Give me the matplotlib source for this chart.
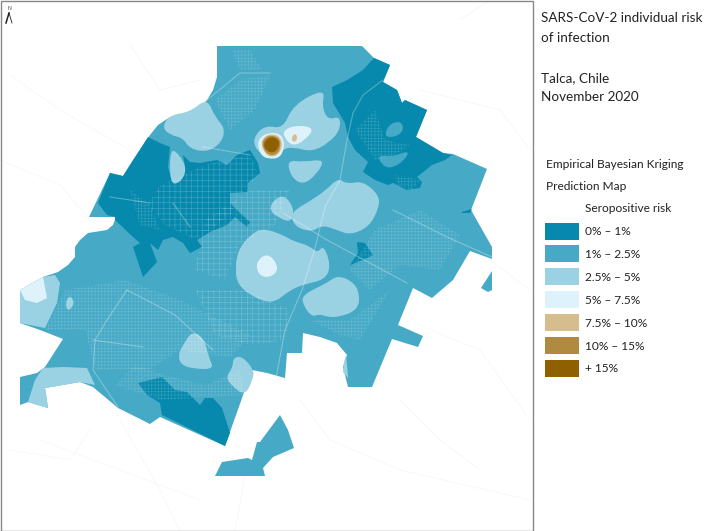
import matplotlib
matplotlib.use("Agg")
import matplotlib.pyplot as plt
from matplotlib.patches import Polygon, Rectangle, PathPatch
from matplotlib.path import Path

plt.rcParams['font.family'] = ['Lato', 'DejaVu Sans']
plt.rcParams['hatch.linewidth'] = 0.35

# risk classes
legend_labels = ["0% – 1%", "1% – 2.5%", "2.5% – 5%", "5% – 7.5%", "7.5% – 10%", "10% – 15%", "+ 15%"]
legend_colors = ["#0689ad", "#46a9c6", "#9bd2e3", "#def2fb", "#d5bd8d", "#b08a3e", "#8e6000"]

# map outline in pixels
city = [(217,46),(362,46),(374,58),(390,65),(383,82),(397,90),(402,103),(405,100),(427,110),(416,137),
        (443,153),(453,154),(487,169),(471,210),(492,247),(492,259),(470,251),(453,280),(432,298),(413,288),
        (398,325),(423,336),(418,347),(392,339),(372,387),(348,387),(343,367),(347,355),(337,343),(320,337),
        (303,333),(302,353),(287,353),(285,378),(267,373),(252,370),(225,446),(160,417),(150,424),(118,408),
        (93,387),(80,382),(45,388),(48,408),(28,402),(20,405),(20,377),(37,373),(45,367),(63,339),(40,330),
        (20,323),(20,290),(43,277),(58,272),(68,265),(75,257),(75,247),(80,240),(88,233),(107,230),(113,225),
        (116,217),(89,217),(110,173),(123,176),(133,160),(150,135),(158,125),(170,117),(190,114),(200,108),
        (207,100),(213,90),(217,77)]
city_south = [(215,476),(222,462),(248,458),(252,460),(257,442),(260,442),(280,415),(288,430),(294,448),
              (273,457),(263,468),(265,476)]
city_east = [(492,271),(492,290),(488,292),(481,288)]

# 0-1 %
low_west = [(110,173),(123,176),(148,137),(160,143),(170,147),(168,167),(172,182),(180,180),(185,167),(183,155),
            (190,162),(200,163),(217,160),(227,165),(237,155),(250,150),(258,163),(260,173),(248,183),(247,192),
            (230,193),(230,203),(240,213),(250,222),(247,227),(235,217),(227,225),(210,232),(197,240),(202,247),
            (190,253),(183,243),(173,237),(163,240),(158,250),(150,243),(157,262),(143,277),(133,247),(140,243),
            (133,237),(115,220),(115,217),(107,215),(98,203)]
low_ne = [(332,87),(347,80),(363,70),(374,58),(390,65),(383,82),(397,90),(402,103),(405,100),(427,110),(416,137),
          (443,153),(452,155),(445,160),(432,165),(417,177),(422,182),(420,188),(407,190),(393,183),(388,185),
          (375,180),(363,172),(368,162),(355,150),(348,137),(345,123),(333,103)]
low_south = [(138,383),(162,377),(175,390),(187,392),(200,405),(205,398),(213,398),(222,408),(230,433),(225,446),
             (162,415),(160,403),(147,395)]
low_center = [(357,242),(365,243),(373,255),(363,260),(350,265),(358,253)]
low_east = [(462,212),(472,209),(470,213),(462,213)]

# 1-2.5 % patches inside the 0-1 % area
base_ne_1 = [(384,137),(389,124),(401,121),(404,130),(396,137)]
base_ne_2 = [(378,155),(392,157),(410,150),(404,161),(390,169),(381,164)]

# 2.5-5 %, straight sided where they meet the outline
mid_west_edge = [(20,290),(43,277),(55,275),(60,283),(57,303),(45,328),(20,323)]
mid_sw_band = [(43,368),(63,367),(87,368),(95,385),(80,382),(45,388),(48,408),(28,402),(35,380)]
mid_sliver = [(346,355),(347,365),(348,378),(343,372),(344,362)]
# 2.5-5 % blobs
mid_nw = [(170,115),(190,112),(207,98),(215,117),(225,128),(222,142),(208,152),(190,149),(183,138),(170,135),(162,127)]
mid_strip = [(170,148),(180,155),(187,170),(180,183),(170,184)]
mid_center = [(250,235),(263,228),(283,235),(293,241),(310,246),(317,253),(324,245),(331,267),(324,280),(305,284),
              (290,290),(273,304),(253,297),(238,285),(235,270),(238,250)]
mid_east_big = [(290,213),(310,201),(325,191),(338,178),(347,184),(363,181),(379,195),(379,208),(369,227),(350,235),
                (337,230),(322,225),(312,232),(295,227)]
mid_east_small = [(267,208),(282,193),(294,207),(292,222),(280,219)]
mid_north_small = [(287,160),(303,162),(325,159),(317,174),(303,185),(291,177)]
mid_peak = [(253,138),(265,125),(283,129),(293,105),(325,88),(322,107),(328,120),(340,116),(340,130),(330,142),
            (312,152),(293,147),(283,149),(270,160),(256,150)]
mid_west_dot = [(65,303),(70,295),(75,303),(68,312)]
mid_south = [(192,331),(204,338),(209,358),(214,369),(195,369),(181,365),(178,355),(183,345)]
mid_se = [(233,358),(242,356),(254,370),(253,379),(245,396),(231,385),(226,377),(233,367)]
mid_lower_east = [(302,295),(327,283),(338,275),(355,283),(360,297),(357,310),(340,317),(327,317),(320,314),(312,317),(303,305)]

# 5-7.5 %
high_west = [(20,290),(43,277),(47,298),(37,303),(25,300)]
high_hole = [(256,262),(267,253),(277,263),(277,273),(267,278),(258,274)]
high_peak = [(257,141),(266,133),(280,133),(285,143),(281,158),(267,159),(260,154)]
high_peak2 = [(283,130),(297,125),(315,128),(304,141),(293,146),(285,139)]

# the hot spot
tan_peak = [(260,143),(267,134),(279,135),(283,145),(278,156),(267,157)]
tan_dot = [(291,138),(295,133),(298,138),(294,143)]
brown_peak = [(261,143),(268,135),(279,137),(281,146),(277,155),(267,155)]
dark_peak = [(263,143),(271,136),(279,140),(279,147),(274,153),(266,151)]

# sharp shapes, class index first
sharp_layers = [
    (0, [low_west, low_ne, low_south, low_center, low_east]),
    (2, [mid_west_edge, mid_sw_band, mid_sliver]),
    (3, [high_west]),
]
# kriging contours with rounded outlines
round_layers = [
    (1, [base_ne_1, base_ne_2]),
    (2, [mid_nw, mid_strip, mid_center, mid_east_big, mid_east_small, mid_north_small, mid_peak,
         mid_west_dot, mid_south, mid_se, mid_lower_east]),
    (3, [high_hole, high_peak, high_peak2]),
    (4, [tan_peak, tan_dot]),
    (5, [brown_peak]),
    (6, [dark_peak]),
]

# street texture
blocks_grid = [[(148,205),(160,185),(205,165),(250,155),(258,175),(240,195),(230,215),(195,240),(165,225)],
               [(205,220),(250,190),(290,190),(275,225),(240,245),(225,280),(195,270)],
               [(195,290),(245,290),(290,310),(285,340),(250,345),(215,335)]]
blocks_dense = [[(45,330),(65,290),(125,280),(180,300),(250,335),(230,358),(180,350),(150,370),(95,370),(85,330)],
                [(115,385),(135,365),(165,375),(205,385),(240,370),(245,395),(160,400)],
                [(215,100),(240,80),(270,75),(255,110),(230,130)],
                [(232,50),(250,50),(262,70),(240,70)],
                [(355,130),(375,110),(385,140),(410,145),(395,155),(375,160)],
                [(375,230),(420,210),(460,235),(440,270),(400,265),(370,290),(350,270)],
                [(310,320),(350,320),(390,290),(360,340),(340,335)],
                [(395,175),(420,180),(412,190),(397,185)],
                [(130,190),(150,205),(160,230),(140,225)]]
roads = [[(383,80),(363,95),(353,113),(347,140),(340,180),(325,207),(315,248),(302,290),(285,330),(277,373),(247,476)],
         [(283,213),(327,240),(407,283)],
         [(393,210),(447,237),(492,257)],
         [(127,290),(175,315),(213,350)],
         [(127,290),(107,320),(95,340),(93,370),(118,407)],
         [(93,340),(143,347)],
         [(110,197),(150,203)],
         [(173,203),(190,227)],
         [(207,100),(240,73),(270,73)],
         [(203,147),(250,155)]]
faint_roads = [[(10,75),(60,110),(130,150)],[(0,160),(60,185),(90,220)],[(130,45),(160,90),(200,80)],
               [(420,90),(500,110),(530,150)],[(490,260),(530,290)],[(430,330),(480,350),(530,420)],
               [(300,400),(330,440),(400,470),(530,500)],[(40,440),(120,470),(200,500)],[(120,420),(160,490),(180,531)],
               [(460,20),(490,0)],[(400,400),(440,440),(480,470)],[(245,476),(235,531)],[(10,450),(70,460),(90,430)]]

# legend and titles
title_lines = ["SARS-CoV-2 individual risk", "of infection", "Talca, Chile", "November 2020"]
title_y = [18, 38, 78, 97]


def rounded(points):
    # quadratic curves with the points as control points
    mids = [((points[i][0] + points[(i + 1) % len(points)][0]) / 2,
             (points[i][1] + points[(i + 1) % len(points)][1]) / 2) for i in range(len(points))]
    verts = [mids[-1]]
    codes = [Path.MOVETO]
    for i in range(len(points)):
        verts += [points[i], mids[i]]
        codes += [Path.CURVE3, Path.CURVE3]
    return Path(verts + [mids[-1]], codes + [Path.CLOSEPOLY])


fig = plt.figure(figsize=(7.10, 5.31), dpi=100)
ax = fig.add_axes([0, 0, 1, 1])
ax.set_xlim(0, 710)
ax.set_ylim(531, 0)
ax.axis("off")

for r in faint_roads:
    ax.plot([p[0] for p in r], [p[1] for p in r], color="#f8f8f8", lw=0.7, zorder=1)

for shape in [city, city_south, city_east]:
    ax.add_patch(Polygon(shape, closed=True, facecolor=legend_colors[1], edgecolor="none", zorder=2))

city_clip = Polygon(city, closed=True, transform=ax.transData)
for idx, shapes in sharp_layers:
    for s in shapes:
        ax.add_patch(Polygon(s, closed=True, facecolor=legend_colors[idx], edgecolor="none", zorder=3 + idx * 0.1))
for idx, shapes in round_layers:
    for s in shapes:
        ax.add_patch(PathPatch(rounded(s), facecolor=legend_colors[idx], edgecolor="none", zorder=3 + idx * 0.1))

for b in blocks_grid:
    p = Polygon(b, closed=True, fill=False, edgecolor=(1, 1, 1, 0.28), hatch="+++", lw=0, zorder=4)
    ax.add_patch(p)
    p.set_clip_path(city_clip)
for b in blocks_dense:
    p = Polygon(b, closed=True, fill=False, edgecolor=(1, 1, 1, 0.2), hatch="+++++", lw=0, zorder=4)
    ax.add_patch(p)
    p.set_clip_path(city_clip)
for r in roads:
    line, = ax.plot([p[0] for p in r], [p[1] for p in r], color="white", alpha=0.3, lw=0.8, zorder=4.2)
    line.set_clip_path(city_clip)

# map frame
ax.add_patch(Rectangle((0.5, 0.5), 532.5, 530, fill=False, edgecolor="#888888", lw=1.0, zorder=5))

# north arrow
ax.text(9, 8, "N", fontsize=3.5, ha="center", va="center", color="#333333")
ax.plot([9, 6], [13, 23], color="#222222", lw=1.1)
ax.plot([9, 12], [13, 23], color="#222222", lw=0.6)

for line, y in zip(title_lines, title_y):
    ax.text(541, y, line, fontsize=9.7, va="center", ha="left", color="#222222")

ax.text(546, 164, "Empirical Bayesian Kriging", fontsize=8.6, va="center", color="#222222")
ax.text(546, 186, "Prediction Map", fontsize=8.6, va="center", color="#222222")
ax.text(585, 209, "Seropositive risk", fontsize=8.6, va="center", color="#222222")

for i, (lab, col) in enumerate(zip(legend_labels, legend_colors)):
    y = 222.5 + i * 22.9
    ax.add_patch(Rectangle((545, y), 34, 17, facecolor=col, edgecolor="none"))
    ax.text(585, y + 9, lab, fontsize=8.6, va="center", color="#222222")

fig.savefig("out.png", dpi=100)
